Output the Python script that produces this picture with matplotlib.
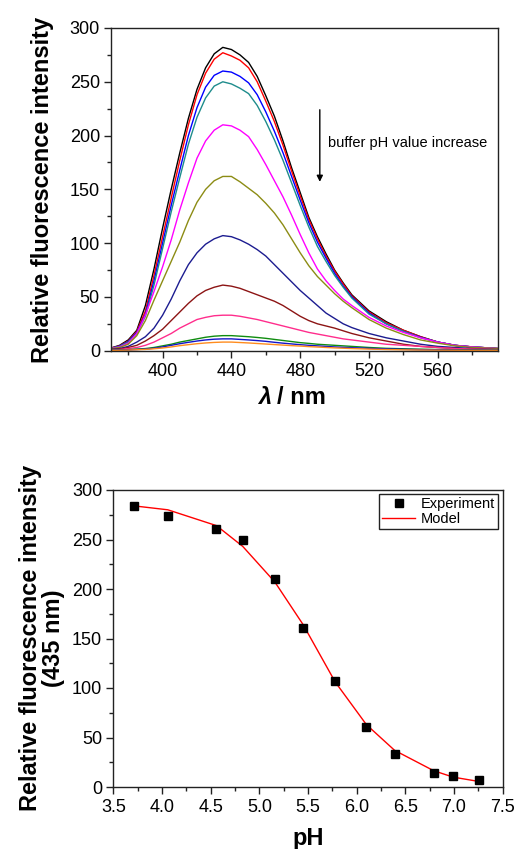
import matplotlib
matplotlib.use("Agg")
import matplotlib.pyplot as plt
from matplotlib.ticker import MultipleLocator
from matplotlib.lines import Line2D

plt.rcParams['font.family'] = ['Liberation Sans', 'DejaVu Sans']

# ---------------- data: emission spectra ----------------
wavelength = [370, 375, 380, 385, 390, 395, 400, 405, 410, 415, 420, 425, 430, 435, 440,
              445, 450, 455, 460, 465, 470, 475, 480, 485, 490, 495, 500, 505, 510, 520,
              530, 540, 550, 560, 570, 580, 595]

spec_black = [2.5, 5, 10, 19, 42, 76, 114, 150, 184, 216, 243, 263, 276, 282, 280, 275, 268, 255, 237,
              218, 195, 170, 147, 124, 106, 90, 75, 63, 52, 37, 27, 19, 13, 8, 5, 3.5, 2]
spec_red = [2.5, 4.5, 9, 18, 37, 70, 106, 142, 177, 210, 238, 258, 271, 277, 274, 270, 263, 250, 232,
            213, 191, 167, 144, 122, 104, 88, 74, 62, 51, 36, 26, 19, 13, 8, 5, 3.5, 2]
spec_blue = [2.3, 4.3, 8.5, 17, 34, 65, 100, 135, 168, 200, 226, 245, 256, 260, 259, 255, 249, 238, 222,
             204, 184, 162, 140, 119, 101, 86, 72, 60, 50, 35, 25, 18, 12.5, 8, 5, 3.5, 2]
spec_teal = [2.2, 4, 8, 16, 32, 61, 95, 129, 161, 192, 217, 235, 246, 250, 248, 244, 239, 228, 213,
             196, 177, 156, 135, 115, 97, 83, 70, 59, 49, 34, 25, 18, 12, 8, 5, 3.5, 2]
spec_magenta = [2, 3.5, 7, 16, 33, 55, 78, 103, 131, 156, 179, 195, 205, 210, 209, 205, 199, 187, 173,
                158, 143, 126, 108, 91, 76, 65, 56, 48, 42, 31, 23, 17, 12, 8, 5, 3.5, 2]
spec_olive = [1.8, 3, 6, 14, 28, 47, 65, 83, 101, 121, 138, 150, 158, 162, 162, 157, 151, 145, 137,
              128, 117, 104, 91, 79, 69, 61, 53, 46, 40, 29, 21, 15, 10, 7, 4.5, 3, 2]
spec_navy = [1.2, 2, 4, 8, 13, 21, 33, 48, 65, 80, 91, 99, 104, 107, 106, 103, 99, 94, 88,
             80, 72, 64, 56, 49, 42, 35, 30, 25, 21.5, 16, 12, 9, 6, 4, 3, 2, 1]
spec_darkred = [1, 1.5, 3, 5, 9, 14, 20, 28, 36, 44, 51, 56, 59, 61, 60, 58, 55, 52, 49,
                46, 42, 37, 32, 28, 25, 23, 21, 18.5, 16, 12, 9, 6, 4, 3, 2, 1.5, 1]
spec_pink = [0.8, 1, 2, 3, 5, 8, 12, 16, 21, 25, 29, 31, 32.5, 33, 33, 32, 30.5, 29, 27,
             25, 23, 21, 19, 17, 15.5, 14, 12.5, 11, 10, 8, 6, 5, 4, 3, 2, 1.5, 1]
spec_green = [0.5, 0.7, 1, 1.5, 2, 3, 4.5, 6, 8, 9.5, 11, 12.5, 13.5, 14, 14, 13.5, 13, 12.3, 11.5,
              10.5, 9.5, 8.5, 7.5, 6.8, 6, 5.5, 5, 4.5, 4, 3, 2.2, 1.8, 1.4, 1.1, 0.9, 0.8, 0.6]
spec_blue2 = [0.4, 0.6, 0.8, 1.1, 1.5, 2.3, 3.5, 5, 6.5, 7.8, 9, 10, 10.7, 11, 11, 10.5, 10, 9.4, 8.7,
              7.8, 7, 6.3, 5.6, 5, 4.5, 4, 3.5, 3.1, 2.8, 2.2, 1.7, 1.3, 1, 0.8, 0.6, 0.5, 0.4]
spec_orange = [0.3, 0.4, 0.6, 0.9, 1.2, 1.8, 2.5, 3.5, 4.7, 5.6, 6.5, 7.2, 7.7, 8, 8, 7.6, 7.2, 6.7, 6.2,
               5.7, 5.2, 4.7, 4.3, 3.8, 3.4, 3, 2.6, 2.3, 2, 1.5, 1.1, 0.8, 0.6, 0.5, 0.4, 0.3, 0.3]

spectra = [spec_black, spec_red, spec_blue, spec_teal, spec_magenta, spec_olive,
           spec_navy, spec_darkred, spec_pink, spec_green, spec_blue2, spec_orange]
spec_colors = ['#000000', '#FF0000', '#0000FF', '#1E8C8C', '#FF00FF', '#8C8C14',
               '#1C1C90', '#8C1414', '#FF2D8C', '#0F8C0F', '#1414C8', '#FF8C1E']

# ---------------- data: titration ----------------
ph = [3.71, 4.06, 4.56, 4.83, 5.16, 5.45, 5.78, 6.10, 6.39, 6.79, 6.99, 7.26]
intensity_exp = [283.5, 274, 261, 250, 210, 161, 107, 61, 33, 14, 11, 7.5]
intensity_model = [284, 280, 264, 243, 207, 164, 106, 63, 37, 16.5, 10, 5.5]

W, H = 517, 849
fig = plt.figure(figsize=(W / 100, H / 100), dpi=100)


def axes_px(left, top, right, bottom):
    return fig.add_axes([left / W, 1 - bottom / H, (right - left) / W, (bottom - top) / H])


def style(ax):
    for s in ax.spines.values():
        s.set_linewidth(1.0)
        s.set_color('#222222')
    ax.tick_params(which='both', direction='out', top=False, right=False,
                   width=1.0, labelsize=13, color='#222222')
    ax.tick_params(which='major', length=5)
    ax.tick_params(which='minor', length=3)
    ax.tick_params(axis='x', pad=4)
    ax.tick_params(axis='y', pad=3)


# ---------------- top panel ----------------
ax1 = axes_px(111, 28, 498, 350.7)
for vals, col in zip(spectra, spec_colors):
    ax1.plot(wavelength, vals, color=col, lw=1.0)
ax1.set_xlim(370, 595)
ax1.set_ylim(0, 300)
ax1.xaxis.set_major_locator(MultipleLocator(40))
ax1.xaxis.set_minor_locator(MultipleLocator(20))
ax1.yaxis.set_major_locator(MultipleLocator(50))
ax1.yaxis.set_minor_locator(MultipleLocator(25))
style(ax1)
ax1.annotate('', xy=(491.4, 157), xytext=(491.4, 224),
             arrowprops=dict(arrowstyle='-|>', color='black', lw=1.0,
                             mutation_scale=9, shrinkA=0, shrinkB=0))
ax1.text(496, 193, 'buffer pH value increase', fontsize=10.5, ha='left', va='center')

fig.text(43 / W, 1 - 190 / H, 'Relative fluorescence intensity', rotation=90,
         ha='center', va='center', fontsize=17, fontweight='bold')
fig.text(258 / W, 1 - 397 / H, 'λ', ha='left', va='center', fontsize=17,
         fontweight='bold', fontstyle='italic')
fig.text(277 / W, 1 - 397 / H, '/ nm', ha='left', va='center', fontsize=17,
         fontweight='bold')

# ---------------- bottom panel ----------------
ax2 = axes_px(113.3, 490, 502.7, 787)
ax2.plot(ph, intensity_model, color='#FF0000', lw=1.0, label='Model', zorder=2)
ax2.plot(ph, intensity_exp, ls='none', marker='s', ms=5.5, color='black',
         label='Experiment', zorder=3)
ax2.set_xlim(3.5, 7.5)
ax2.set_ylim(0, 300)
ax2.xaxis.set_major_locator(MultipleLocator(0.5))
ax2.xaxis.set_minor_locator(MultipleLocator(0.25))
ax2.yaxis.set_major_locator(MultipleLocator(50))
ax2.yaxis.set_minor_locator(MultipleLocator(25))
style(ax2)

handles = [Line2D([], [], ls='none', marker='s', ms=5.5, color='black'),
           Line2D([], [], color='#FF0000', lw=1.0)]
leg = ax2.legend(handles, ['Experiment', 'Model'], loc='upper right',
                 bbox_to_anchor=(0.987, 0.9865), borderaxespad=0, fontsize=10.5,
                 frameon=True, fancybox=False, edgecolor='#222222', framealpha=1,
                 handlelength=2.3, handletextpad=0.35, borderpad=0.2,
                 labelspacing=0.1)
leg.get_frame().set_linewidth(1.0)

fig.text(42 / W, 1 - 638 / H, 'Relative fluorescence intensity\n(435 nm)', rotation=90,
         ha='center', va='center', fontsize=17, fontweight='bold',
         multialignment='center', linespacing=1.0)
fig.text(308 / W, 1 - 838 / H, 'pH', ha='center', va='center', fontsize=17,
         fontweight='bold')

fig.savefig('out.png', dpi=100)
